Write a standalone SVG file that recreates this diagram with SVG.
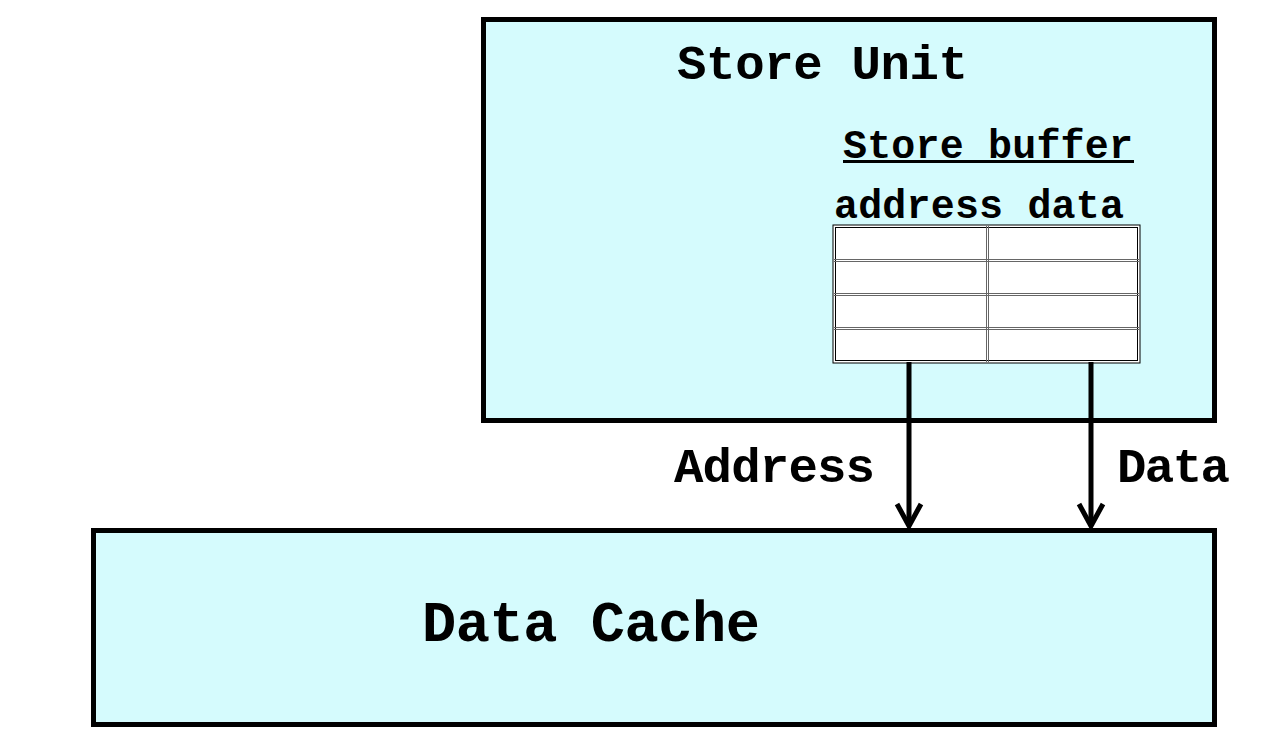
<svg xmlns="http://www.w3.org/2000/svg" width="1282" height="746" viewBox="0 0 1282 746">
<style>
.box{fill:#d5fbfd;stroke:#000;stroke-width:5}
.t{font-family:"Liberation Mono","Courier New",monospace;font-weight:bold;fill:#000}
.grid{stroke:#666;stroke-width:1;fill:none}
.conn{stroke:#000;stroke-width:5;fill:none}
</style>
<rect width="1282" height="746" fill="#fff"/>
<g id="store-unit">
<rect class="box" x="483.5" y="19.5" width="731" height="401"/>
<text class="t" x="677" y="79" font-size="49" textLength="291">Store Unit</text>
</g>
<g id="store-buffer">
<text class="t" x="843" y="158" font-size="40" textLength="290">Store buffer</text>
<line x1="843" y1="161.5" x2="1134" y2="161.5" stroke="#000" stroke-width="3"/>
<text class="t" x="834" y="218" font-size="40" textLength="290">address data</text>
<rect x="833" y="225" width="307" height="138" fill="#fff" stroke="#000" stroke-width="1"/>
<rect x="835.5" y="227.5" width="302" height="133" fill="none" stroke="#000" stroke-width="1"/>
<line class="grid" x1="834" y1="259.5" x2="1139" y2="259.5"/>
<line class="grid" x1="834" y1="261.5" x2="1139" y2="261.5"/>
<line class="grid" x1="834" y1="293.5" x2="1139" y2="293.5"/>
<line class="grid" x1="834" y1="295.5" x2="1139" y2="295.5"/>
<line class="grid" x1="834" y1="327.5" x2="1139" y2="327.5"/>
<line class="grid" x1="834" y1="329.5" x2="1139" y2="329.5"/>
<line class="grid" x1="986.5" y1="226" x2="986.5" y2="362"/>
<line class="grid" x1="988.5" y1="226" x2="988.5" y2="362"/>
</g>
<g id="data-cache">
<rect class="box" x="93.5" y="530.5" width="1121" height="194"/>
<text class="t" x="422" y="641" font-size="57" textLength="338">Data Cache</text>
</g>
<g id="connectors">
<line class="conn" x1="909" y1="362" x2="909" y2="526"/>
<polyline class="conn" points="897,504 909,526 921,504"/>
<line class="conn" x1="1091" y1="362" x2="1091" y2="526"/>
<polyline class="conn" points="1079,504 1091,526 1103,504"/>
<text class="t" x="674" y="482" font-size="49" textLength="201">Address</text>
<text class="t" x="1117" y="482" font-size="49" textLength="113">Data</text>
</g>
</svg>
